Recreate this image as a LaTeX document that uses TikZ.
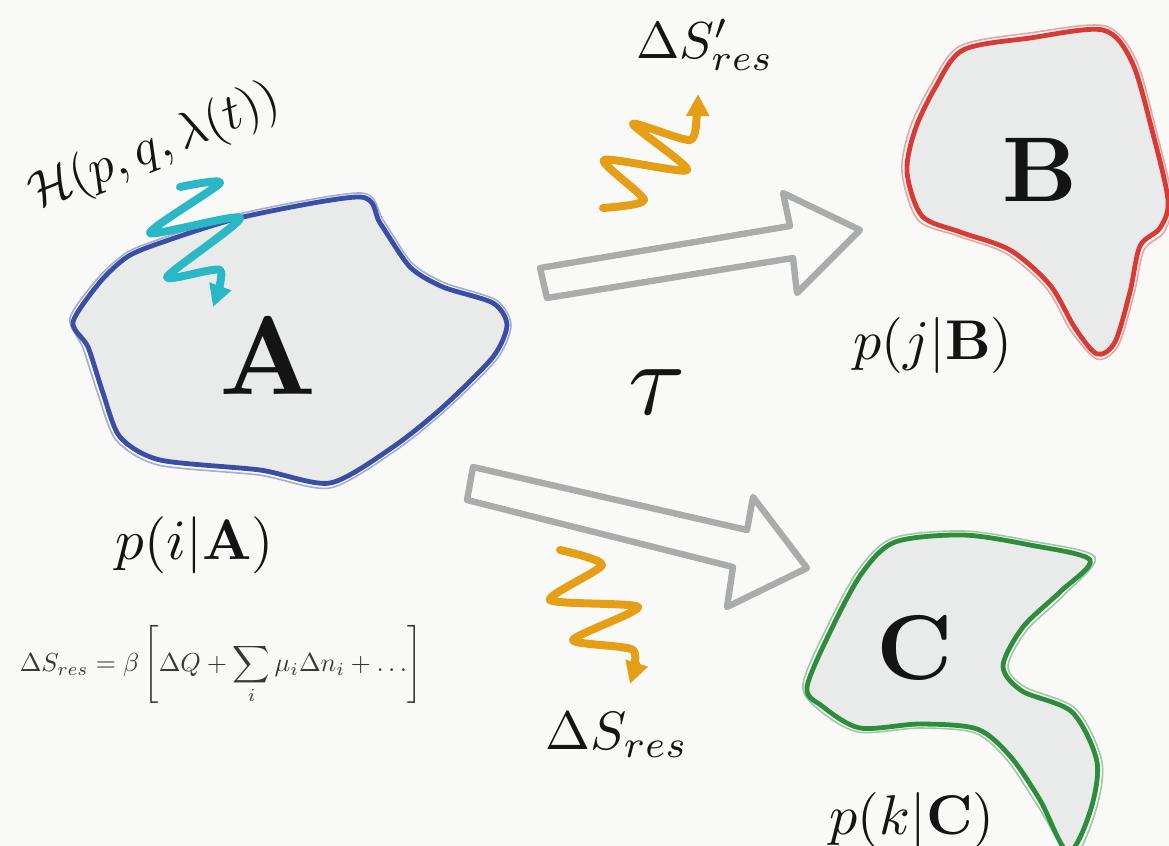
\documentclass[tikz,border=0pt]{standalone}
\usepackage{amsmath}
\usetikzlibrary{arrows.meta}
\definecolor{bg}{HTML}{F9FAF8}
\definecolor{shapefill}{HTML}{E8EBEA}
\definecolor{ablue}{HTML}{3B4EA6}
\definecolor{bred}{HTML}{D83B35}
\definecolor{cgreen}{HTML}{2E8C3C}
\definecolor{wcyan}{HTML}{2AB7C6}
\definecolor{worange}{HTML}{E59F17}
\definecolor{agray}{HTML}{AAACAC}
\definecolor{ink}{HTML}{141414}
\begin{document}
\begin{tikzpicture}[x=0.5pt,y=-0.5pt,
  region/.style={fill=shapefill, line width=2.4pt, line join=round},
  sketch/.style={line width=0.8pt, opacity=0.45},
  hollowarrow/.style={draw=agray, line width=3.2pt, line join=round, fill=bg},
  wave/.style={line width=4pt, line cap=round, line join=round,
     -{Triangle[length=11pt,width=11pt]}},
  lbl/.style={text=ink, inner sep=0pt}]
\useasboundingbox (0,0) rectangle (1169,846);
\clip (0,0) rectangle (1169,846);
\fill[bg] (0,0) rectangle (1169,846);

% region A
\draw[region, draw=ablue] plot[smooth cycle, tension=0.45] coordinates {
 (73,322) (100,282) (127,257) (160,243) (243,217) (360,197) (380,223) (410,267)
 (443,287) (493,303) (507,325) (493,357) (443,407) (393,447) (330,483)
 (260,470) (160,460) (120,437) (103,393) (88,347)};
\draw[sketch, draw=ablue] plot[smooth cycle, tension=0.45] coordinates {
 (70,318) (98,278) (126,253) (160,239) (243,213) (361,193) (383,220) (412,263)
 (445,283) (496,300) (511,325) (497,359) (446,410) (395,451) (330,488)
 (259,475) (158,465) (116,440) (98,394) (83,348)};

% region B
\draw[region, draw=bred] plot[smooth cycle, tension=0.5] coordinates {
 (963,50) (1030,38) (1103,30) (1132,62) (1152,130) (1168,200) (1160,228)
 (1140,246) (1130,292) (1115,342) (1097,354) (1075,328) (1050,285) (1010,250)
 (960,232) (922,216) (907,172) (915,130) (935,88)};
\draw[sketch, draw=bred] plot[smooth cycle, tension=0.5] coordinates {
 (960,46) (1030,33) (1105,26) (1136,60) (1156,130) (1172,200) (1164,232)
 (1144,250) (1134,294) (1118,346) (1097,359) (1071,331) (1047,289) (1007,254)
 (958,236) (918,220) (902,172) (910,128) (931,85)};

% region C
\draw[region, draw=cgreen] plot[smooth cycle, tension=0.5] coordinates {
 (807,687) (832,628) (862,573) (895,542) (963,535) (1030,545) (1090,560)
 (1060,592) (1023,627) (1003,666) (1022,691) (1072,712) (1097,762) (1090,812)
 (1068,852) (1040,800) (1010,756) (977,729) (920,724) (860,728) (822,706)};
\draw[sketch, draw=cgreen] plot[smooth cycle, tension=0.5] coordinates {
 (803,684) (828,625) (859,569) (893,538) (963,531) (1031,541) (1095,557)
 (1064,595) (1027,630) (1008,666) (1025,687) (1076,709) (1102,762) (1095,813)
 (1072,856) (1036,803) (1007,760) (975,733) (920,728) (858,732) (818,709)};

% hollow gray arrows
\draw[hollowarrow] (540,268) -- (790,226) -- (783,193) -- (860,230)
  -- (797,293) -- (793,258) -- (547,298) -- cycle;
\draw[hollowarrow] (473,467) -- (747,530) -- (753,497) -- (807,568)
  -- (727,607) -- (733,567) -- (467,500) -- cycle;

% wavy arrows
\draw[wave, draw=wcyan] plot[smooth, tension=0.4] coordinates {
 (180,187) (220,183) (150,233) (240,218) (167,277) (220,270) (213,307)};
\draw[wave, draw=worange] plot[smooth, tension=0.4] coordinates {
 (603,208) (644,200) (604,160) (687,170) (633,124) (690,140) (697,112) (698,94)};
\draw[wave, draw=worange] plot[smooth, tension=0.4] coordinates {
 (560,550) (602,565) (550,600) (638,607) (573,640) (633,650) (630,684)};

% labels
\node[lbl, scale=5.6] (labA) at (268,356) {$\mathbf{A}$};
\node[lbl, scale=4.6] (labB) at (1040,170) {$\mathbf{B}$};
\node[lbl, scale=4.6] (labC) at (915,648) {$\mathbf{C}$};
\node[lbl, scale=5.2] (tau) at (657,392) {$\tau$};
\node[lbl, scale=2.55, rotate=22] (ham) at (155,148) {$\mathcal{H}(p,q,\lambda(t))$};
\node[lbl, scale=2.6] (dsp) at (705,45) {$\Delta S'_{res}$};
\node[lbl, scale=2.7] (ds) at (617,735) {$\Delta S_{res}$};
\node[lbl, scale=2.85] (pA) at (195,545) {$p(i|\mathbf{A})$};
\node[lbl, scale=2.8] (pB) at (933,345) {$p(j|\mathbf{B})$};
\node[lbl, scale=2.8] (pC) at (912,820) {$p(k|\mathbf{C})$};
\node[lbl, scale=1.3, text=ink!85] (eq) at (221,665)
  {$\displaystyle \Delta S_{res} = \beta\left[\Delta Q + \sum_i \mu_i \Delta n_i + \ldots\right]$};
\end{tikzpicture}
\end{document}
